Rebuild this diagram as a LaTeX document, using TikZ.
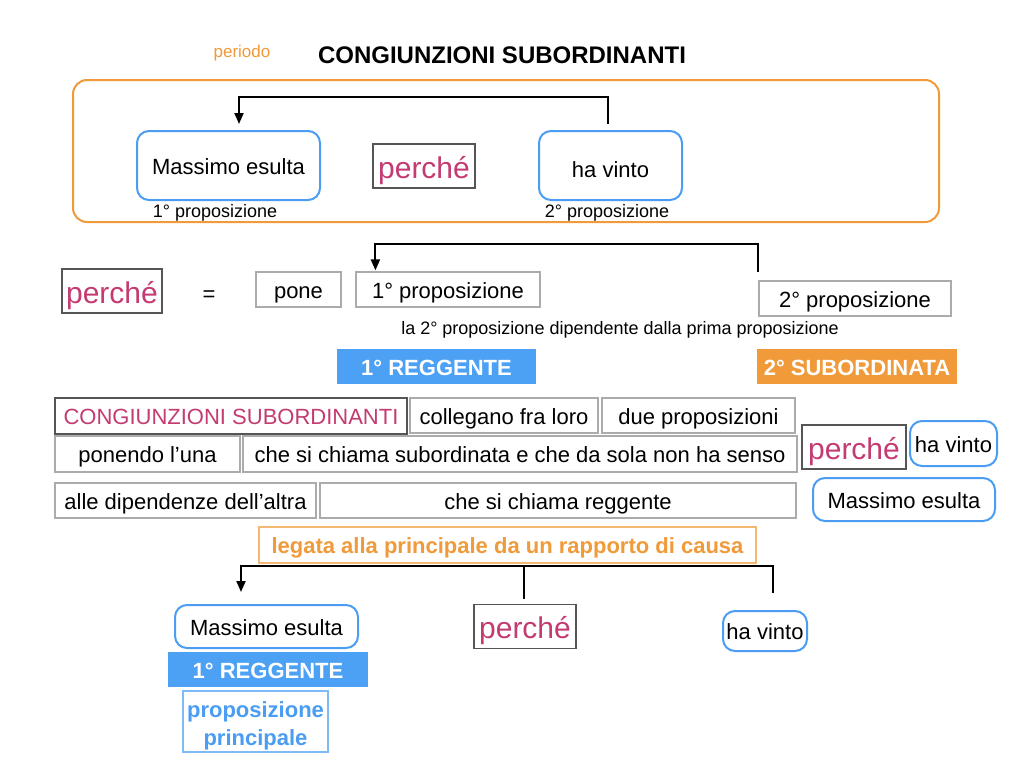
\documentclass[tikz,border=0pt]{standalone}
\usepackage{fontspec}
\setmainfont{Liberation Sans}
\usetikzlibrary{arrows.meta}
\definecolor{ora}{HTML}{F09A3A}
\definecolor{bblue}{HTML}{4A9DF3}
\definecolor{bfill}{HTML}{4DA1F5}
\definecolor{mag}{HTML}{C33B72}
\definecolor{gbord}{HTML}{ABABAB}
\definecolor{dgray}{HTML}{555555}
\begin{document}
\begin{tikzpicture}[x=1pt,y=-1pt,
  f22/.style={font=\fontsize{22}{26}\selectfont, text height=21pt, text depth=4pt},
  gbox/.style={draw=gbord, line width=1.2pt, inner sep=0pt, f22},
  bbox/.style={draw=bblue, line width=2pt, rounded corners=12pt, inner sep=0pt, f22},
  perch/.style={draw=dgray, line width=1.3pt, text=mag, inner sep=0pt, font=\fontsize{30}{34}\selectfont, text height=28pt, text depth=4pt},
  fillb/.style={fill=bfill, inner sep=0pt, text=white, font=\bfseries\fontsize{22}{26}\selectfont, text height=21pt, text depth=4pt},
  fillo/.style={fill=ora, inner sep=0pt, text=white, font=\bfseries\fontsize{22}{26}\selectfont, text height=21pt, text depth=4pt},
  small/.style={inner sep=0pt, font=\fontsize{18}{21}\selectfont},
  conn/.style={draw=black, line width=2pt},
  arr/.style={conn, -{Triangle[length=11pt,width=9pt]}}
]
\useasboundingbox (0,0) rectangle (1024,768);
\fill[white] (0,0) rectangle (1024,768);

% title
\node[inner sep=0pt, text=ora, font=\fontsize{17}{20}\selectfont] (per) at (242,53) {periodo};
\node[inner sep=0pt, font=\bfseries\fontsize{24}{28}\selectfont] (title) at (502,55) {CONGIUNZIONI SUBORDINANTI};

% top frame
\node[draw=ora, line width=2pt, rounded corners=14pt, minimum width=866pt, minimum height=142pt, inner sep=0pt] (frame) at (506,151) {};
\node[bbox, minimum width=183pt, minimum height=69pt] (mA) at (228.5,165.5) {Massimo esulta};
\node[perch, minimum width=102pt, minimum height=44pt] (pA) at (424,166) {perché};
\node[bbox, minimum width=143pt, minimum height=69pt] (hA) at (610.5,165.5) {\raisebox{-3pt}[\height][\depth]{ha vinto}};
\node[small] (l1) at (215,213) {1° proposizione};
\node[small] (l2) at (607,213) {2° proposizione};
\draw[arr, shorten <=6pt, shorten >=6pt] ([xshift=-2.5pt]hA.north) -- ++(0,-33) -| ([xshift=10.5pt]mA.north);

% row 2
\node[perch, minimum width=100pt, minimum height=44pt] (pB) at (112,291) {perché};
\node[inner sep=0pt, f22] (eq) at (209,293) {=};
\node[gbox, minimum width=85pt, minimum height=35pt] (pone) at (298.5,289.5) {pone};
\node[gbox, minimum width=184pt, minimum height=35pt] (p1) at (448,289.5) {1° proposizione};
\node[gbox, minimum width=192pt, minimum height=35pt] (p2) at (855,298.5) {2° proposizione};
\node[small] (la) at (620,330) {la 2° proposizione dipendente dalla prima proposizione};
\node[fillb, minimum width=199pt, minimum height=35pt] (reg1) at (436.5,366.5) {1° REGGENTE};
\node[fillo, minimum width=200pt, minimum height=35pt] (sub2) at (857,366.5) {2° SUBORDINATA};
\draw[arr, shorten <=8pt, shorten >=1pt] (p2.north west) -- ++(0,-36) -| ([xshift=20pt]p1.north west);

% row 3
\node[gbox, draw=dgray, text=mag, minimum width=352pt, minimum height=36pt] (cs) at (231,416) {CONGIUNZIONI SUBORDINANTI};
\node[gbox, minimum width=188pt, minimum height=35pt] (col) at (504,415.5) {collegano fra loro};
\node[gbox, minimum width=193pt, minimum height=35pt] (due) at (698.5,415.5) {due proposizioni};
\node[gbox, minimum width=185pt, minimum height=36pt] (pon) at (147.5,454) {ponendo l’una};
\node[gbox, minimum width=554pt, minimum height=36pt] (chs) at (520,454) {che si chiama subordinata e che da sola non ha senso};
\node[perch, minimum width=104pt, minimum height=44pt] (pC) at (854,447) {perché};
\node[bbox, minimum width=87pt, minimum height=45pt] (hC) at (953.5,443.5) {ha vinto};
\node[gbox, minimum width=261pt, minimum height=35pt] (all) at (185.5,500.5) {alle dipendenze dell’altra};
\node[gbox, minimum width=476pt, minimum height=35pt] (chr) at (558,500.5) {che si chiama reggente};
\node[bbox, minimum width=182pt, minimum height=43pt] (mC) at (904,499.5) {Massimo esulta};
\node[draw=ora!70, line width=1.2pt, inner sep=0pt, text=ora, font=\bfseries\fontsize{22}{26}\selectfont, text height=21pt, text depth=4pt, minimum width=497pt, minimum height=36pt] (leg) at (507.5,545) {legata alla principale da un rapporto di causa};

% bottom
\node[bbox, minimum width=183pt, minimum height=43pt] (mD) at (266.5,626.5) {Massimo esulta};
\node[fillb, minimum width=200pt, minimum height=35pt] (reg2) at (268,669.5) {1° REGGENTE};
\node[draw=bblue!70, line width=1.2pt, inner sep=0pt, text=bblue, align=center, font=\bfseries\fontsize{22}{27}\selectfont, minimum width=145pt, minimum height=61pt] (prin) at (255.5,721.5) {\raisebox{-5pt}[\height][\depth]{\begin{tabular}{@{}c@{}}proposizione\\[1pt]principale\end{tabular}}};
\node[perch, minimum width=102pt, minimum height=44pt] (pD) at (525,626.5) {perché};
\node[bbox, minimum width=84pt, minimum height=40pt] (hD) at (765,631) {ha vinto};
\draw[arr, shorten <=17pt, shorten >=12pt] ([xshift=8pt]hD.north) -- ++(0,-44) -| ([xshift=-25.5pt]mD.north);
\draw[conn, shorten <=5pt] ([xshift=-1pt]pD.north) -- ++(0,-38);
\end{tikzpicture}
\end{document}
